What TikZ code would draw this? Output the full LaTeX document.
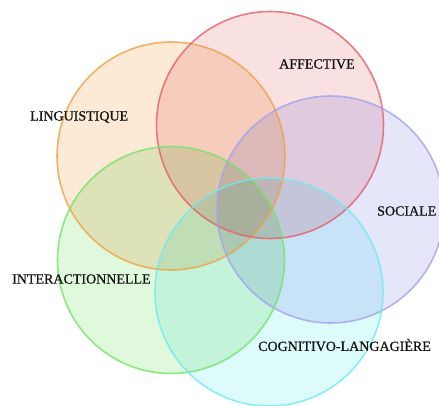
\documentclass[tikz,border=0pt]{standalone}
\usepackage{fontspec}
\setmainfont{Liberation Serif}
\newfontfamily\labfont{Liberation Serif}[FakeBold=0.8]
\definecolor{fOr}{RGB}{252,233,214}
\definecolor{sOr}{RGB}{240,160,70}
\definecolor{fRe}{RGB}{249,224,225}
\definecolor{sRe}{RGB}{228,95,105}
\definecolor{fBl}{RGB}{230,230,251}
\definecolor{sBl}{RGB}{165,160,240}
\definecolor{fGr}{RGB}{224,248,220}
\definecolor{sGr}{RGB}{115,228,105}
\definecolor{fCy}{RGB}{222,251,252}
\definecolor{sCy}{RGB}{110,235,240}
\tikzset{
  ring/.style={line width=1.6pt,draw opacity=0.8},
  lab/.style={anchor=west,inner sep=0pt,font=\labfont\fontsize{14}{14}\selectfont,text=black!92}
}
\begin{document}
\begin{tikzpicture}[x=1pt,y=-1pt]
\useasboundingbox (0,0) rectangle (439,405);
\clip (0,0) rectangle (439,405);
\begin{scope}[blend group=multiply]
  \fill[fOr] (171,156) circle (114);
  \fill[fRe] (270,125) circle (113.5);
  \fill[fBl] (330.5,209.5) circle (113.5);
  \fill[fGr] (171,260) circle (113.5);
  \fill[fCy] (269,292) circle (114);
\end{scope}
\draw[ring,sOr] (171,156) circle (114);
\draw[ring,sRe] (270,125) circle (113.5);
\draw[ring,sBl] (330.5,209.5) circle (113.5);
\draw[ring,sGr] (171,260) circle (113.5);
\draw[ring,sCy] (269,292) circle (114);
\node[lab] (ling) at (30,117) {LINGUISTIQUE};
\node[lab] (aff) at (279,64) {AFFECTIVE};
\node[lab] (soc) at (377,211) {SOCIALE};
\node[lab] (inter) at (12,279) {INTERACTIONNELLE};
\node[lab] (cog) at (258,345) {COGNITIVO-LANGAGIÈRE};
\end{tikzpicture}
\end{document}
